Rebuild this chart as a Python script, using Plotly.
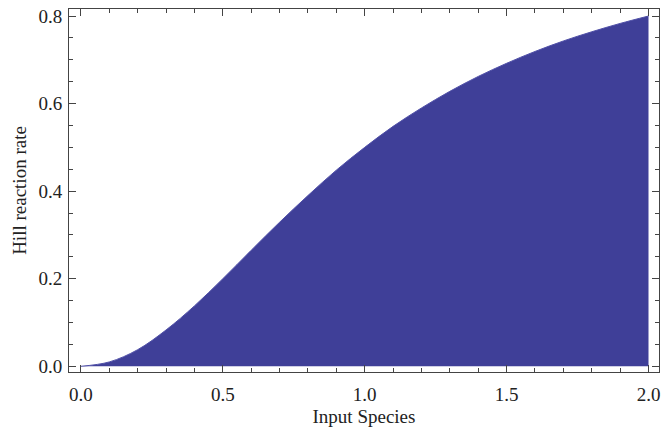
import plotly.graph_objects as go

# Values
input_species = [0.0, 0.1, 0.2, 0.3, 0.4, 0.5, 0.6, 0.7, 0.8, 0.9, 1.0,
                 1.1, 1.2, 1.3, 1.4, 1.5, 1.6, 1.7, 1.8, 1.9, 2.0]
hill_rate = [0.0, 0.010, 0.038, 0.083, 0.138, 0.200, 0.265, 0.329, 0.390, 0.448, 0.500,
             0.548, 0.590, 0.628, 0.662, 0.692, 0.719, 0.743, 0.764, 0.783, 0.800]

x_ticks = [0.0, 0.5, 1.0, 1.5, 2.0]
x_tick_labels = ["0.0", "0.5", "1.0", "1.5", "2.0"]
y_ticks = [0.0, 0.2, 0.4, 0.6, 0.8]
y_tick_labels = ["0.0", "0.2", "0.4", "0.6", "0.8"]

fill_color = "#3F3F98"
axis_color = "#444444"
font = dict(family="Liberation Serif", size=19, color="#222222")

fig = go.Figure()
fig.add_trace(go.Scatter(
    x=input_species, y=hill_rate, mode="lines",
    line=dict(color="#5050A8", width=1, shape="spline"),
    fill="tozeroy", fillcolor=fill_color, showlegend=False,
))

axis_common = dict(
    showline=True, linecolor=axis_color, linewidth=1, mirror="ticks",
    ticks="inside", tickcolor=axis_color, ticklen=7, tickwidth=1,
    showgrid=False, zeroline=False,
)

fig.update_layout(
    width=663, height=431,
    margin=dict(l=69, r=4, t=9, b=59),
    paper_bgcolor="white", plot_bgcolor="white",
    font=font,
    xaxis=dict(
        range=[-0.042, 2.037], tickvals=x_ticks, ticktext=x_tick_labels,
        tickfont=dict(family="Liberation Serif", size=19, color="#222222"),
        minor=dict(dtick=0.1, ticks="inside", ticklen=4, tickcolor=axis_color, showgrid=False),
        title=dict(text="Input Species", font=dict(family="Liberation Serif", size=19), standoff=5),
        ticklabelstandoff=5,
        **axis_common,
    ),
    yaxis=dict(
        range=[-0.013, 0.816], tickvals=y_ticks, ticktext=y_tick_labels,
        tickfont=dict(family="Liberation Serif", size=19, color="#222222"),
        minor=dict(dtick=0.05, ticks="inside", ticklen=4, tickcolor=axis_color, showgrid=False),
        title=dict(text="Hill reaction rate", font=dict(family="Liberation Serif", size=19), standoff=6),
        ticklabelstandoff=2,
        **axis_common,
    ),
)

fig.write_html("out.html")
